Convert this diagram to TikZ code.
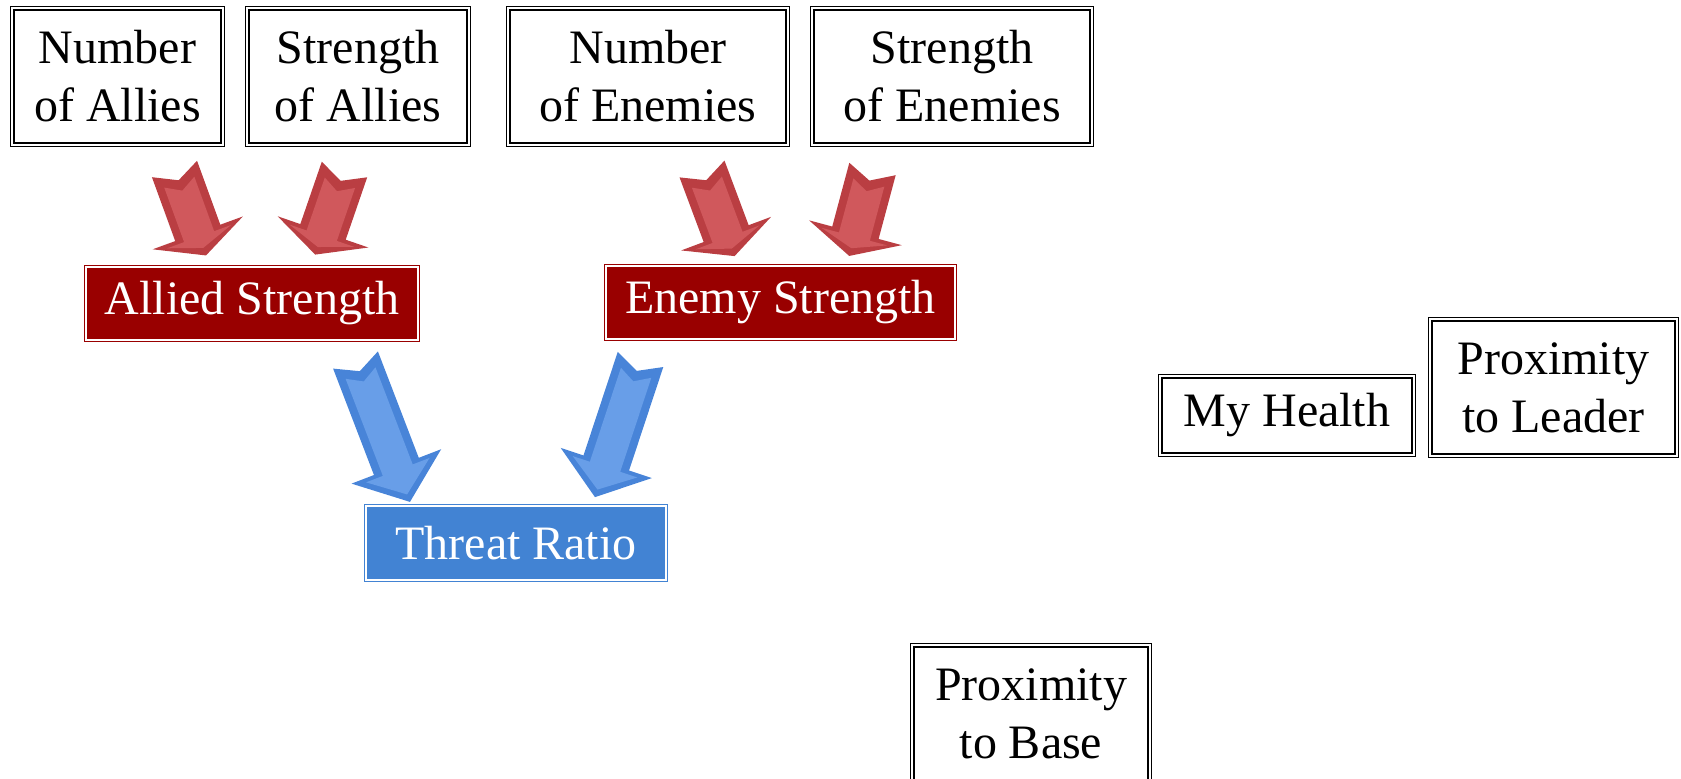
\documentclass[tikz,border=0pt]{standalone}
\usepackage{fontspec}
\setmainfont{Liberation Serif}
\usepackage{tikz}
\usetikzlibrary{positioning}

\definecolor{strengthred}{RGB}{153,0,0}
\definecolor{ratioblue}{RGB}{66,131,211}
\definecolor{arrowred}{RGB}{186,62,66}
\definecolor{arrowredface}{RGB}{208,88,92}
\definecolor{arrowblue}{RGB}{72,132,216}
\definecolor{arrowblueface}{RGB}{104,158,232}

\tikzset{
  pics/blockarrow/.style n args={4}{code={
    \fill[#3] (0,24) -- ({#1-#2},24) -- ({#1-#2},48) -- (#1,0) -- ({#1-#2},-48) -- ({#1-#2},-24) -- (0,-24) -- (12,0) -- cycle;
    \fill[#4] (14,16) -- ({#1-#2+4},16) -- ({#1-#2+4},34) -- ({#1-8},0) -- ({#1-#2+4},-34) -- ({#1-#2+4},-16) -- (14,-16) -- (23,0) -- cycle;
  }}
}

\begin{document}
\begin{tikzpicture}[x=0.5pt, y=-0.5pt, font=\fontsize{24}{29}\selectfont,
  inputbox/.style 2 args={draw, double, line width=0.7pt, double distance=0.9pt, inner sep=0pt, align=center,
    minimum width={#1*0.5pt-2.3pt}, minimum height={#2*0.5pt-2.3pt}},
  resultbox/.style n args={3}{fill=#3, draw=#3, double=white, line width=0.5pt, double distance=0.8pt, inner sep=0pt,
    text=white, minimum width={#1*0.5pt-1.8pt}, minimum height={#2*0.5pt-1.8pt}}]
\useasboundingbox (0,0) rectangle (1681,779);

% inputs
\node[inputbox={215}{141}] (1) at (117.5,76.5) {Number\\of Allies};
\node[inputbox={226}{141}] (2) at (358,76.5) {Strength\\of Allies};
\node[inputbox={284}{141}] (3) at (648,76.5) {Number\\of Enemies};
\node[inputbox={284}{141}] (4) at (952,76.5) {Strength\\of Enemies};
\node[inputbox={258}{83}] (8) at (1287,415.5) {My Health};
\node[inputbox={251}{141}] (9) at (1553.5,387.5) {Proximity\\to Leader};
\node[inputbox={242}{141}] (10) at (1031,713.5) {Proximity\\to Base};

% derived values
\node[resultbox={336}{77}{strengthred}] (5) at (252,303.5) {Allied Strength};
\node[resultbox={353}{77}{strengthred}] (6) at (780.5,302.5) {Enemy Strength};
\node[resultbox={304}{78}{ratioblue}] (7) at (516,543) {Threat Ratio};

% block arrows
\foreach \x/\y/\a/\l in {174.5/169/-70/92, 344.5/169.5/-109/90, 702/169/-69.5/93, 872.5/169/-105/90}
  \pic[rotate=\a] at (\x,\y) {blockarrow={\l}{24}{arrowred}{arrowredface}};
\pic[rotate=-69] at (355.5,360) {blockarrow={152}{38}{arrowblue}{arrowblueface}};
\pic[rotate=-108.3] at (640.5,359.5) {blockarrow={145}{36}{arrowblue}{arrowblueface}};
\end{tikzpicture}
\end{document}
